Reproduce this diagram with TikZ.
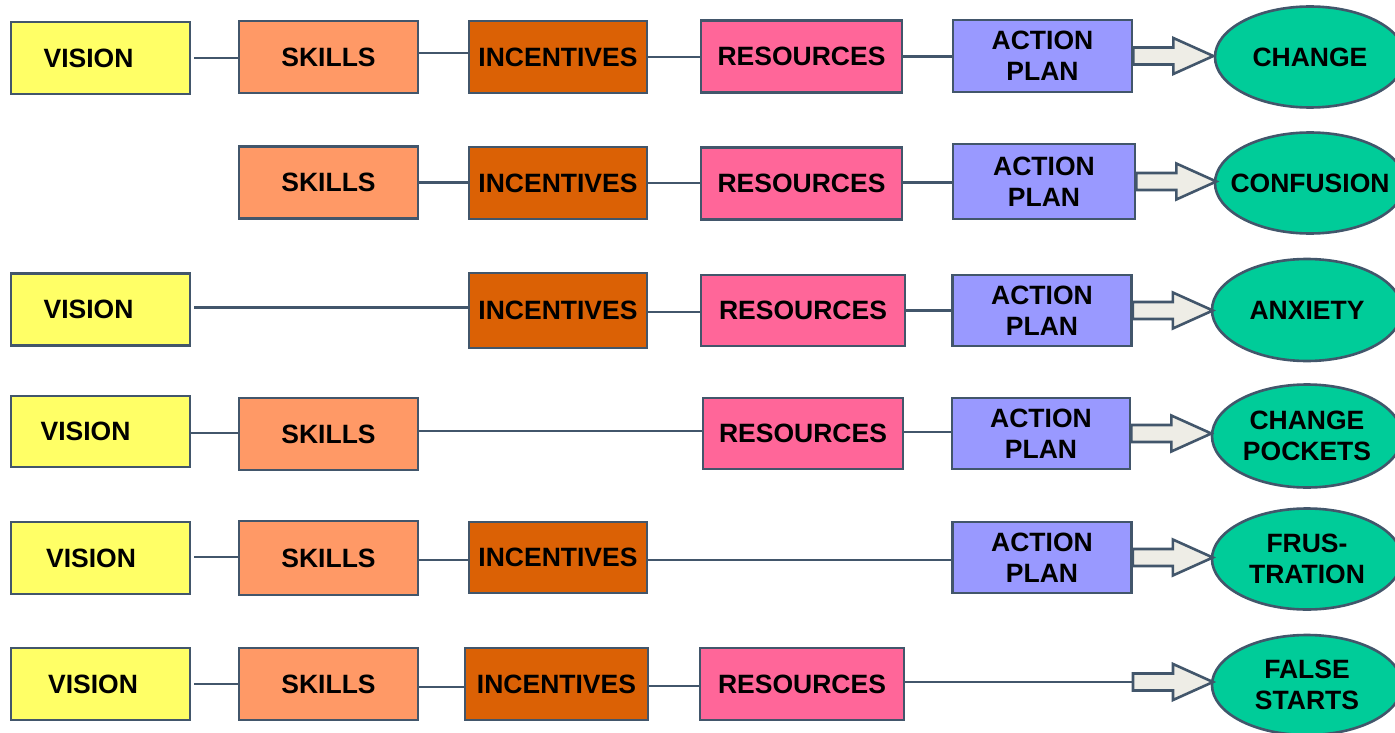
\documentclass[tikz,border=0pt]{standalone}
\usepackage{fontspec}
\setmainfont{Liberation Sans}
\usetikzlibrary{shapes.geometric}
\definecolor{bd}{HTML}{42566B}
\definecolor{cvis}{HTML}{FFFF66}
\definecolor{cski}{HTML}{FF9966}
\definecolor{cinc}{HTML}{DB6105}
\definecolor{cres}{HTML}{FF6699}
\definecolor{cact}{HTML}{9999FF}
\definecolor{cell}{HTML}{00CC99}
\definecolor{carr}{HTML}{EEEDE6}
\newcommand\cl[1]{\makebox[0pt][c]{#1}}
\tikzset{
  box/.style={draw=bd, line width=2.6pt, minimum width=179pt, minimum height=72pt, inner sep=0pt,
    font=\fontsize{26.5}{31}\selectfont\bfseries, align=center},
  vis/.style={box, fill=cvis},
  ski/.style={box, fill=cski},
  inc/.style={box, fill=cinc, minimum width=178pt},
  res/.style={box, fill=cres, minimum width=201pt},
  act/.style={box, fill=cact},
  ell/.style={draw=bd, line width=2.6pt, ellipse, fill=cell, minimum width=190pt, minimum height=101pt,
    inner sep=0pt, font=\fontsize{26.5}{31}\selectfont\bfseries, align=center},
  con/.style={draw=bd, line width=2.2pt},
  blk/.style={draw=bd, line width=2.6pt, fill=carr, line join=miter}
}
\newcommand\blkarrow[1]{\draw[blk] (#1) ++(0,8.5) -- ++(40,0) -- ++(0,9.5) -- ++(40,-18) -- ++(-40,-18) -- ++(0,9.5) -- ++(-40,0) -- cycle;}
\begin{document}
\begin{tikzpicture}[x=1pt,y=-1pt]
\useasboundingbox[fill=white] (0,0) rectangle (1395,733);
% Row 1
\node[vis] (v1) at (100.5,58) {\hspace*{-24pt}VISION};
\node[ski] (s1) at (328.5,57) {SKILLS};
\node[inc] (i1) at (558,57) {INCENTIVES};
\node[res] (r1) at (801.5,56.5) {RESOURCES};
\node[act] (a1) at (1042.5,56) {ACTION\\PLAN};
\node[ell] (e1) at (1310,57) {\cl{CHANGE}};
\draw[con] ([xshift=3pt]v1.east) -- (v1.east -| s1.west);
\draw[con] ([yshift=4pt]s1.east) -- ([yshift=4pt]s1.east -| i1.west);
\draw[con] (i1.east) -- (i1.east -| r1.west);
\draw[con] (r1.east) -- (r1.east -| a1.west);
\blkarrow{a1.east}
% Row 2
\node[ski] (s2) at (328.5,182.5) {SKILLS};
\node[inc] (i2) at (558,183) {INCENTIVES};
\node[res] (r2) at (801.5,183.5) {RESOURCES};
\node[act, minimum width=182pt, minimum height=75pt] (a2) at (1044,181.5) {ACTION\\PLAN};
\node[ell] (e2) at (1310,183) {\cl{CONFUSION}};
\draw[con] (s2.east) -- (s2.east -| i2.west);
\draw[con] (i2.east) -- (i2.east -| r2.west);
\draw[con] ([yshift=1pt]r2.east) -- ([yshift=1pt]r2.east -| a2.west);
\blkarrow{a2.east}
% Row 3
\node[vis] (v3) at (100.5,309.5) {\hspace*{-24pt}VISION};
\node[inc, minimum height=75pt] (i3) at (558,310.5) {INCENTIVES};
\node[res, minimum width=204pt, minimum height=71pt] (r3) at (803,310.5) {RESOURCES};
\node[act, minimum height=71pt] (a3) at (1042,310.5) {ACTION\\PLAN};
\node[ell, minimum height=102pt] (e3) at (1307,310) {\cl{ANXIETY}};
\draw[con] ([xshift=3pt,yshift=2pt]v3.east) -- ([yshift=2pt]v3.east -| i3.west);
\draw[con] ([yshift=-1.5pt]i3.east) -- ([yshift=-1.5pt]i3.east -| r3.west);
\draw[con] (r3.east) -- (r3.east -| a3.west);
\blkarrow{a3.east}
% Row 4
\node[vis, minimum height=71pt] (v4) at (100.5,431.5) {\hspace*{-30pt}VISION};
\node[ski] (s4) at (328.5,434) {SKILLS};
\node[res, minimum width=200pt, minimum height=71pt] (r4) at (803,433.5) {RESOURCES};
\node[act, minimum width=178pt, minimum height=71pt] (a4) at (1041,433.5) {ACTION\\PLAN};
\node[ell, minimum height=103pt] (e4) at (1307,436) {\cl{CHANGE}\\\cl{POCKETS}};
\draw[con] ([yshift=-1.5pt]v4.east) -- ([yshift=-1.5pt]v4.east -| s4.west);
\draw[con] ([yshift=3pt]s4.east) -- ([yshift=3pt]s4.east -| r4.west);
\draw[con] ([yshift=1.5pt]r4.east) -- ([yshift=1.5pt]r4.east -| a4.west);
\blkarrow{a4.east}
% Row 5
\node[vis] (v5) at (100.5,558) {\hspace*{-19pt}\raisebox{-5pt}{VISION}};
\node[ski, minimum height=74pt] (s5) at (328.5,558) {SKILLS};
\node[inc, minimum height=71pt] (i5) at (558,557.5) {INCENTIVES};
\node[act, minimum height=71pt] (a5) at (1042,557.5) {ACTION\\PLAN};
\node[ell] (e5) at (1307,559) {\cl{FRUS-}\\\cl{TRATION}};
\draw[con] ([xshift=3pt,yshift=1pt]v5.east) -- ([yshift=1pt]v5.east -| s5.west);
\draw[con] ([yshift=-2pt]s5.east) -- ([yshift=-2pt]s5.east -| i5.west);
\draw[con] ([yshift=-2.5pt]i5.east) -- ([yshift=-2.5pt]i5.east -| a5.west);
\blkarrow{a5.east}
% Row 6
\node[vis] (v6) at (100.5,684) {\hspace*{-15pt}\raisebox{-3pt}{VISION}};
\node[ski] (s6) at (328.5,684) {SKILLS};
\node[inc, minimum width=183pt] (i6) at (556.5,684) {INCENTIVES};
\node[res, minimum width=204pt] (r6) at (802,684) {RESOURCES};
\node[ell, minimum height=100pt] (e6) at (1307,685) {\cl{FALSE}\\\cl{STARTS}};
\coordinate (t6) at (1133,682);
\draw[con] ([xshift=3pt]v6.east) -- (v6.east -| s6.west);
\draw[con] ([yshift=-3pt]s6.east) -- ([yshift=-3pt]s6.east -| i6.west);
\draw[con] ([yshift=-2pt]i6.east) -- ([yshift=-2pt]i6.east -| r6.west);
\draw[con] ([yshift=2pt]r6.east) -- (t6);
\blkarrow{t6}
\end{tikzpicture}
\end{document}
